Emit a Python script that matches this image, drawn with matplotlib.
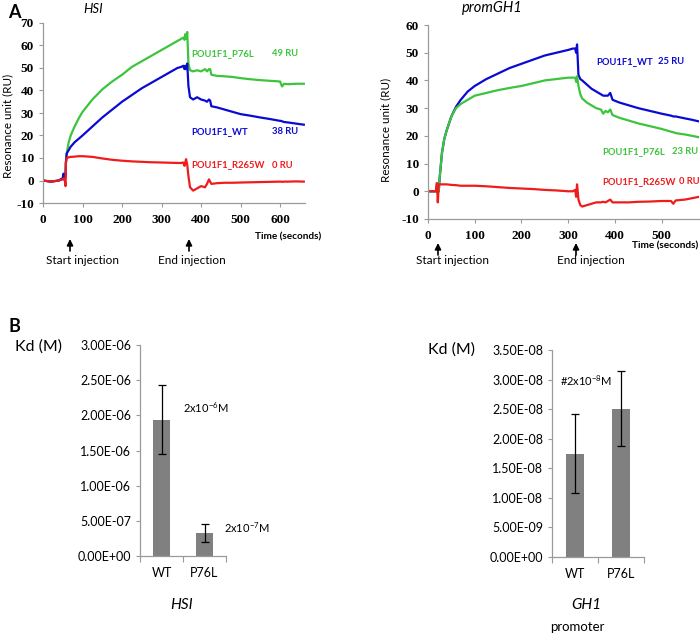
import numpy as np
import matplotlib
matplotlib.use("Agg")
import matplotlib.pyplot as plt
from matplotlib import font_manager

plt.rcParams['font.family'] = ['Lato', 'DejaVu Sans']
plt.rcParams['mathtext.fontset'] = 'custom'
plt.rcParams['mathtext.rm'] = 'Lato'

W, H = 700, 637

# ---- panel A, HSI sensorgram (time s, RU) ----
hsi_t = [0, 20, 40, 50, 52, 55, 57, 58, 60, 65, 70, 80, 90, 100, 125, 150, 175, 200, 225,
         250, 275, 300, 320, 340, 350, 355, 358, 360, 362, 365, 368, 372, 380, 390, 400,
         410, 415, 420, 423, 426, 440, 460, 480, 500, 525, 550, 575, 600, 602, 605, 610,
         620, 640, 660]
hsi_p76l = [0, -0.5, 0, 1, 3, 1, 2, 8, 12, 17, 20, 24, 27.5, 30.5, 36, 40.5, 44, 47, 50.5,
            53, 55.5, 58, 60, 62, 63, 63.5, 62.5, 65, 63, 66, 52, 49, 48.5, 49, 48.5,
            49.5, 48.5, 49.5, 49.5, 47, 46.5, 46.3, 46, 45.5, 45, 44.6, 44.3, 44, 43, 41.8, 43,
            42.8, 43, 43]
hsi_wt = [0, -0.5, 0, 1, 3, 0, 2, 8, 12, 13.5, 15, 17, 18.5, 20, 24, 28, 31.5, 35, 38,
          41, 43.5, 46, 48, 50, 50.5, 51, 49.5, 51, 49.5, 52, 42, 37, 36, 37, 36,
          35.5, 35, 36, 35.5, 33, 32.5, 31.5, 30.5, 29.5, 28.8, 28, 27.3, 26.5, 26.5, 26.3, 26,
          25.8, 25.3, 24.8]
hsi_r265w = [0, -0.5, 0, 0.5, 1, 0.5, -2.5, 8, 10, 10.3, 10.5, 10.6, 10.8, 10.8, 10.5, 9.8, 9.2, 8.8, 8.5,
             8.3, 8.1, 8, 7.9, 7.8, 7.8, 8, 6.5, 8, 9.5, 7, 2, -3, -4.5, -3.5, -2.5,
             -3, -1.5, 0.5, -0.5, -1.5, -1.2, -1, -1, -0.9, -0.8, -0.7, -0.6, -0.5, -0.5, -0.6, -0.5,
             -0.5, -0.4, -0.5]

# ---- panel A, promGH1 sensorgram ----
gh1_t = [0, 10, 17, 19, 21, 23, 25, 30, 35, 40, 50, 60, 70, 85, 100, 125, 150, 175, 200,
         225, 250, 275, 300, 310, 315, 317, 319, 322, 326, 330, 340, 350, 360, 370, 375, 380,
         385, 390, 395, 410, 430, 450, 475, 500, 520, 525, 530, 550, 565, 580]
gh1_wt = [0, 0, 0, 2, 1, 0, 5, 14, 19, 22, 27, 30.5, 33, 36, 38, 40.5, 42.5, 44.5, 46,
          47.5, 49, 50, 51, 51.5, 51.5, 50, 53, 42, 40.5, 40, 38.5, 37, 36, 35, 34.5, 34.5,
          34.5, 35.5, 33, 32, 31, 30, 29, 28, 27.3, 27, 27, 26.3, 25.8, 25.2]
gh1_p76l = [0, 0, 0, 2, 0, 0, 5, 14, 19, 22, 27, 30, 31.5, 33, 34.5, 35.5, 36.5, 37.3, 38,
            39, 40, 40.5, 41, 41, 41, 39.5, 41.5, 38, 35, 33.5, 32, 31, 30, 29.5, 28, 29,
            28.5, 29.5, 27.5, 26.5, 25.5, 24.5, 23.5, 22.5, 21.5, 21.3, 21, 20.5, 20, 19.5]
gh1_r265w = [0, 0, 0, 3, -4, 2.5, 2.5, 2.5, 2.5, 2.5, 2.3, 2.2, 2, 2, 2, 1.8, 1.5, 1.2, 1,
             0.8, 0.5, 0.3, 0, 0, 0.5, -2, 2.5, -3, -5, -5.5, -5, -4.5, -4, -4, -3.8, -4,
             -3.5, -3, -4, -4, -4, -3.8, -3.7, -3.5, -3.5, -4.5, -3.3, -3, -2.5, -2]

# ---- panel B, Kd values ----
kd_cats = ['WT', 'P76L']
kd_hsi = [1.94e-6, 3.3e-7]
kd_hsi_err = [4.9e-7, 1.25e-7]
kd_gh1 = [1.75e-8, 2.51e-8]
kd_gh1_err = [6.6e-9, 6.4e-9]

GREEN = '#3cc43c'
BLUE = '#0a0ad2'
RED = '#ee1c1c'
AXCOL = '#9a9a9a'

# bold Times-like face for the sensorgram tick numbers, picked by file
serif_file = font_manager.findfont(font_manager.FontProperties(
    family=['Liberation Serif', 'DejaVu Serif'], weight='bold'))
TICKFONT = font_manager.FontProperties(fname=serif_file, size=9.5)


def px(x, y):
    return x / W, 1 - y / H


def add_ax(left, top, right, bottom):
    return fig.add_axes([left / W, 1 - bottom / H, (right - left) / W, (bottom - top) / H])


def style_ax(ax):
    for s in ['top', 'right']:
        ax.spines[s].set_visible(False)
    for s in ['left', 'bottom']:
        ax.spines[s].set_color(AXCOL)
        ax.spines[s].set_linewidth(0.9)
    ax.tick_params(color=AXCOL, length=3, width=0.8)


fig = plt.figure(figsize=(W / 100, H / 100), dpi=100)


def sensorgram(ax, t, series, xmax, ymax):
    for vals, col in series:
        ax.plot(t, vals, color=col, lw=1.6)
    ax.set_xlim(0, xmax)
    ax.set_ylim(-10, ymax)
    yt = np.arange(-10, ymax + 1, 10)
    xt = np.arange(0, xmax, 100)
    ax.set_yticks(yt, [str(v) for v in yt], fontproperties=TICKFONT)
    ax.set_xticks(xt, [str(v) for v in xt], fontproperties=TICKFONT)
    style_ax(ax)
    ax.tick_params(axis='x', pad=5)


ax1 = add_ax(43, 23, 305, 203)
sensorgram(ax1, hsi_t, [(hsi_p76l, GREEN), (hsi_wt, BLUE), (hsi_r265w, RED)], 663, 70)
ax2 = add_ax(428, 25, 699, 219)
sensorgram(ax2, gh1_t, [(gh1_wt, BLUE), (gh1_p76l, GREEN), (gh1_r265w, RED)], 580, 60)

fig.text(*px(8, 126), 'Resonance unit (RU)', fontsize=8.4, rotation=90, ha='center', va='center')
fig.text(*px(386, 130), 'Resonance unit (RU)', fontsize=8.4, rotation=90, ha='center', va='center')

fig.text(*px(8, 12), 'A', fontsize=13, fontweight='bold', va='center')
fig.text(*px(8, 327), 'B', fontsize=13, fontweight='bold', va='center')
fig.text(*px(93, 9), 'HSI', fontsize=9.5, style='italic', ha='center', va='center')
fig.text(*px(492, 8), 'promGH1', fontsize=10.5, style='italic', ha='center', va='center')
fig.text(*px(321, 237), 'Time (seconds)', fontsize=7.2, fontweight='bold', ha='right', va='center')
fig.text(*px(698, 246), 'Time (seconds)', fontsize=7.2, fontweight='bold', ha='right', va='center')

labels = [
    (191, 54, 'POU1F1_P76L', 272, '49 RU', GREEN),
    (191, 132, 'POU1F1_WT', 272, '38 RU', BLUE),
    (191, 165, 'POU1F1_R265W', 272, '0 RU', RED),
    (596, 62, 'POU1F1_WT', 658, '25 RU', BLUE),
    (602, 152, 'POU1F1_P76L', 672, '23 RU', GREEN),
    (602, 182, 'POU1F1_R265W', 679, '0 RU', RED),
]
for x0, y0, name, x1, ru, col in labels:
    fig.text(*px(x0, y0), name, color=col, fontsize=6.8, fontweight='bold', va='center')
    fig.text(*px(x1, y0), ru, color=col, fontsize=6.8, fontweight='bold', va='center')

arrows = [(70, 239, 83, 'Start injection'), (189, 239, 192, 'End injection'),
          (438, 243, 452, 'Start injection'), (576, 243, 591, 'End injection')]
for xa, ya, xt, txt in arrows:
    ax1.annotate('', xy=px(xa, ya), xytext=px(xa, ya + 12), xycoords='figure fraction',
                 textcoords='figure fraction', annotation_clip=False,
                 arrowprops=dict(arrowstyle='-|>', color='black', lw=1.2, mutation_scale=9,
                                 shrinkA=0, shrinkB=0))
    fig.text(*px(xt, 261), txt, fontsize=8.5, ha='center', va='center')


def kd_bars(ax, vals, errs, ymax, ystep):
    x = np.arange(len(kd_cats))
    ax.bar(x, vals, width=0.4, color='#808080')
    ax.errorbar(x, vals, yerr=errs, fmt='none', ecolor='black', elinewidth=0.9,
                capsize=3, capthick=0.9)
    ax.set_xlim(-0.5, len(kd_cats) - 0.5)
    ax.set_ylim(0, ymax)
    yt = np.arange(0, ymax * 1.0001, ystep)
    ax.set_yticks(yt, ['%.2E' % v for v in yt], fontsize=9)
    ax.set_xticks([-0.5, 0.5, 1.5], ['', '', ''])
    ax.set_xticks(x, kd_cats, minor=True, fontsize=9)
    style_ax(ax)
    ax.tick_params(axis='x', which='minor', length=0, pad=8)
    ax.tick_params(axis='x', which='major', length=4)


ax3 = add_ax(140, 345, 226, 556)
kd_bars(ax3, kd_hsi, kd_hsi_err, 3.0e-6, 5e-7)
ax4 = add_ax(552, 350, 644, 557)
kd_bars(ax4, kd_gh1, kd_gh1_err, 3.5e-8, 5e-9)

fig.text(*px(15, 347), 'Kd (M)', fontsize=11.5, va='center')
fig.text(*px(428, 350), 'Kd (M)', fontsize=11.5, va='center')
fig.text(*px(183, 408), r'2x10$^{\mathregular{-6}}$M', fontsize=8, va='center')
fig.text(*px(224, 528), r'2x10$^{\mathregular{-7}}$M', fontsize=8, va='center')
fig.text(*px(560, 381), r'#2x10$^{\mathregular{-8}}$M', fontsize=8, va='center')
fig.text(*px(182, 605), 'HSI', fontsize=11, style='italic', ha='center', va='center')
fig.text(*px(586, 605), 'GH1', fontsize=11, style='italic', ha='center', va='center')
fig.text(*px(577, 627), 'promoter', fontsize=9.5, ha='center', va='center')

fig.savefig('out.png', dpi=100)
